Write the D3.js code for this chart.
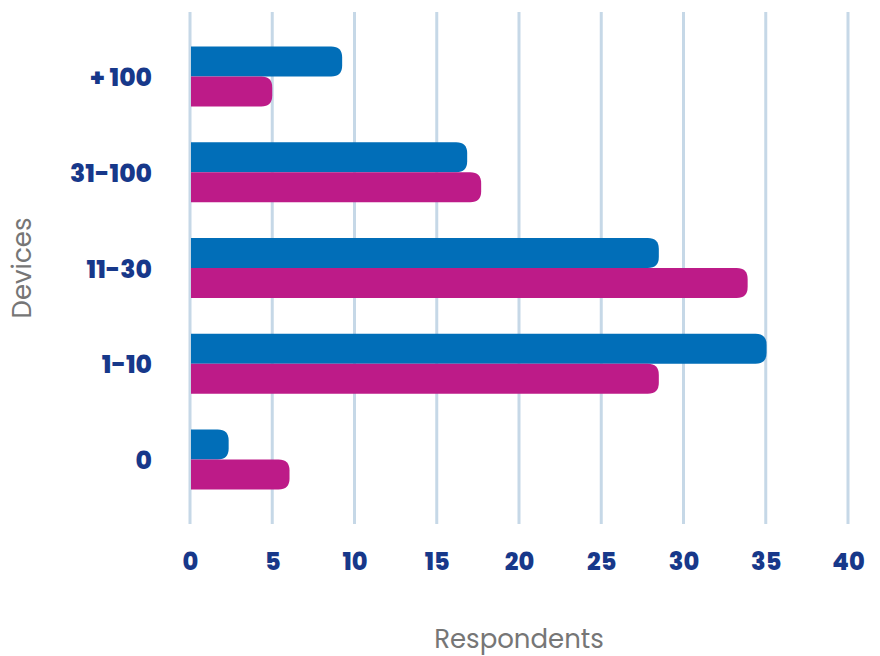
<!DOCTYPE html>
<html>
<head>
<meta charset="utf-8">
<script src="https://cdn.jsdelivr.net/npm/d3@7"></script>
<style>
  body { margin: 0; background: #fff; }
  text { font-family: "Poppins", "Open Sans", "Noto Sans", sans-serif; }
</style>
</head>
<body>
<div id="chart"></div>
<script>
// categories, top to bottom
var categories = ["+ 100", "31-100", "11-30", "1-10", "0"];
// series values
var blueValues = [9.25, 16.85, 28.5, 35.05, 2.35];
var magentaValues = [5.0, 17.7, 33.9, 28.5, 6.05];
var xTicks = [0, 5, 10, 15, 20, 25, 30, 35, 40];

var svgWidth = 880;
var svgHeight = 656;

var margin = { top: 12, right: 32, bottom: 132, left: 190 };
var chartWidth = svgWidth - margin.left - margin.right;
var chartHeight = svgHeight - margin.top - margin.bottom;

var svg = d3.select("#chart")
    .append("svg")
    .attr("width", svgWidth)
    .attr("height", svgHeight);

var chartGroup = svg.append("g").attr("transform", `translate(${margin.left}, ${margin.top})`);

//scales
var xScale = d3.scaleLinear().domain([0, 40]).range([0, chartWidth]);
var yScale = d3.scaleBand()
    .domain(categories)
    .range([0, chartHeight])
    .paddingInner(0.374)
    .paddingOuter(0.36);
var subScale = d3.scaleBand().domain(["blue", "magenta"]).range([0, yScale.bandwidth()]);

//gridlines
chartGroup.selectAll(".grid")
    .data(xTicks)
    .enter()
    .append("line")
    .attr("x1", d => xScale(d))
    .attr("x2", d => xScale(d))
    .attr("y1", 0)
    .attr("y2", chartHeight)
    .attr("stroke", "#c6d8e7")
    .attr("stroke-width", 3);

//bar with rounded right end
function barPath(x0, x1, y, h, r) {
    r = Math.min(r, (x1 - x0), h / 2);
    return `M${x0},${y}H${x1 - r}Q${x1},${y} ${x1},${y + r}V${y + h - r}Q${x1},${y + h} ${x1 - r},${y + h}H${x0}Z`;
}

var series = [
    { key: "blue", values: blueValues, color: "#016eb8" },
    { key: "magenta", values: magentaValues, color: "#bd1b88" }
];

series.forEach(function(s) {
    chartGroup.selectAll(".bar-" + s.key)
        .data(categories)
        .enter()
        .append("path")
        .attr("class", "bar-" + s.key)
        .attr("fill", s.color)
        .attr("d", (c, i) => barPath(xScale(0) + 1, xScale(s.values[i]), yScale(c) + subScale(s.key), subScale.bandwidth(), 11));
});

//x axis
var xAxis = chartGroup.append("g")
    .attr("transform", `translate(0, ${chartHeight})`)
    .call(d3.axisBottom(xScale).tickValues(xTicks).tickSize(0).tickPadding(29));
xAxis.select(".domain").remove();
xAxis.selectAll("text")
    .attr("fill", "#17388a")
    .style("font-size", "24px")
    .style("font-weight", "800");

//y axis
var yAxis = chartGroup.append("g")
    .call(d3.axisLeft(yScale).tickSize(0).tickPadding(38));
yAxis.select(".domain").remove();
yAxis.selectAll("text")
    .attr("fill", "#17388a")
    .attr("dy", "0.38em")
    .style("font-size", "25px")
    .style("font-weight", "800");

//axis titles
svg.append("text")
    .attr("x", margin.left + chartWidth / 2)
    .attr("y", 648)
    .attr("text-anchor", "middle")
    .attr("fill", "#767676")
    .style("font-size", "26px")
    .text("Respondents");

svg.append("text")
    .attr("transform", `translate(31, ${margin.top + chartHeight / 2}) rotate(-90)`)
    .attr("text-anchor", "middle")
    .attr("fill", "#767676")
    .style("font-size", "26px")
    .text("Devices");
</script>
</body>
</html>
